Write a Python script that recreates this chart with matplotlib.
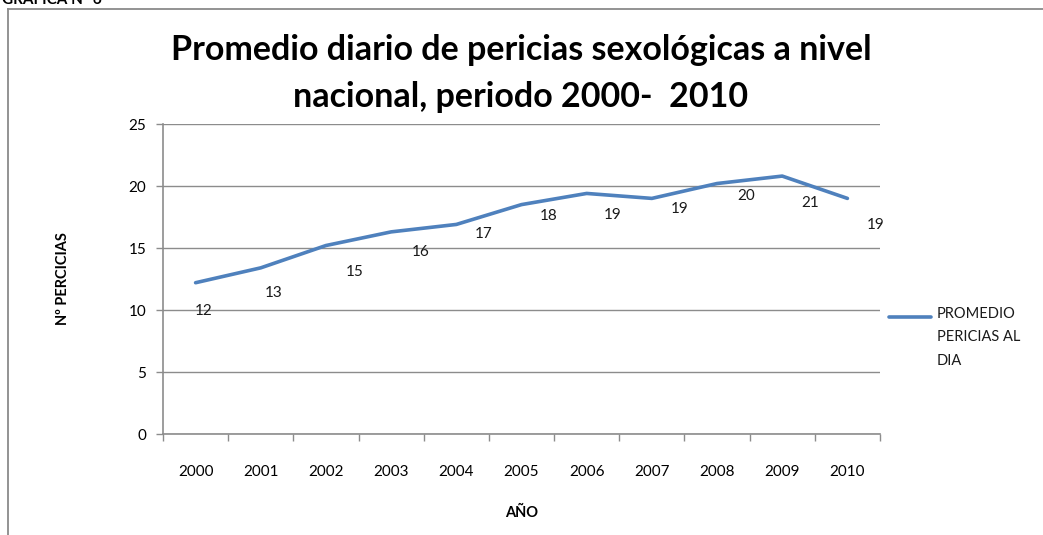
import numpy as np
import matplotlib.pyplot as plt
from matplotlib.lines import Line2D

# datos
anios = ['2000', '2001', '2002', '2003', '2004', '2005', '2006', '2007', '2008', '2009', '2010']
promedio = [12.2, 13.4, 15.2, 16.3, 16.9, 18.5, 19.4, 19.0, 20.2, 20.8, 19.0]
etiquetas = ['12', '13', '15', '16', '17', '18', '19', '19', '20', '21', '19']
serie = 'PROMEDIO\nPERICIAS AL\nDIA'

# desplazamiento de cada etiqueta en pixeles (x, y hacia abajo)
desplaz = [(8, 28), (13, 25), (29, 26), (30, 20), (27, 10), (27, 11),
           (26, 22), (28, 11), (29, 12), (28, 27), (28, 27)]

plt.rcParams['font.family'] = ['Lato', 'DejaVu Sans']
W, H = 1043, 535
azul = '#4F81BD'
gris = '#8c8c8c'
fig = plt.figure(figsize=(W / 100, H / 100), dpi=100)
ax = fig.add_axes([163 / W, 1 - 434 / H, (880 - 163) / W, (434 - 124) / H])

x = np.arange(len(anios))
ax.plot(x, promedio, color=azul, linewidth=2.6, solid_capstyle='round',
        solid_joinstyle='round', zorder=3)

for xi, yi, txt, (dx, dy) in zip(x, promedio, etiquetas, desplaz):
    ax.annotate(txt, (xi, yi), xytext=(dx * 0.72, -dy * 0.72), textcoords='offset points',
                ha='center', va='center', fontsize=11, color='#1a1a1a')

ax.set_xlim(-0.5, len(anios) - 0.5)
ax.set_ylim(0, 25)
ax.set_yticks([0, 5, 10, 15, 20, 25])
ax.yaxis.grid(True, color=gris, linewidth=1)
ax.set_axisbelow(True)
ax.set_xticks(x)
ax.set_xticklabels(anios)
ax.set_xticks(np.arange(-0.5, len(anios)), minor=True)
ax.tick_params(axis='x', which='major', length=0, pad=22, labelsize=11)
ax.tick_params(axis='x', which='minor', length=5, width=1, color=gris, direction='out')
ax.tick_params(axis='y', length=5, width=1, color=gris, pad=7, labelsize=11)

for s in ['top', 'right']:
    ax.spines[s].set_visible(False)
for s in ['left', 'bottom']:
    ax.spines[s].set_color(gris)
    ax.spines[s].set_linewidth(1.2)

ax.set_xlabel('AÑO', fontsize=10.5, fontweight='bold', labelpad=20)
ax.set_ylabel('Nº PERCICIAS', fontsize=10.5, fontweight='bold', labelpad=42)

fig.text(521 / W, 1 - 50 / H, 'Promedio diario de pericias sexológicas a nivel',
         ha='center', va='center', fontsize=24.5, fontweight='bold')
fig.text(521 / W, 1 - 97 / H, 'nacional, periodo 2000-  2010',
         ha='center', va='center', fontsize=24.5, fontweight='bold')

# leyenda a la derecha (linea alineada con la primera fila del texto)
fig.add_artist(Line2D([889 / W, 931 / W], [1 - 317 / H, 1 - 317 / H], color=azul,
                      linewidth=2.6, solid_capstyle='round'))
fig.text(937 / W, 1 - 307 / H, serie, ha='left', va='top', fontsize=10.5,
         linespacing=1.85, color='#1a1a1a')

# marco exterior y texto cortado arriba
fig.add_artist(Line2D([8 / W, 1], [1 - 9 / H, 1 - 9 / H], color='#8a8a8a', linewidth=1.3))
fig.add_artist(Line2D([8 / W, 8 / W], [0, 1 - 9 / H], color='#8a8a8a', linewidth=1.3))
fig.text(2 / W, 1 - 4 / H, 'GRÁFICA N° 6', ha='left', va='baseline',
         fontsize=11, fontweight='bold')

fig.savefig('out.png', dpi=100)
